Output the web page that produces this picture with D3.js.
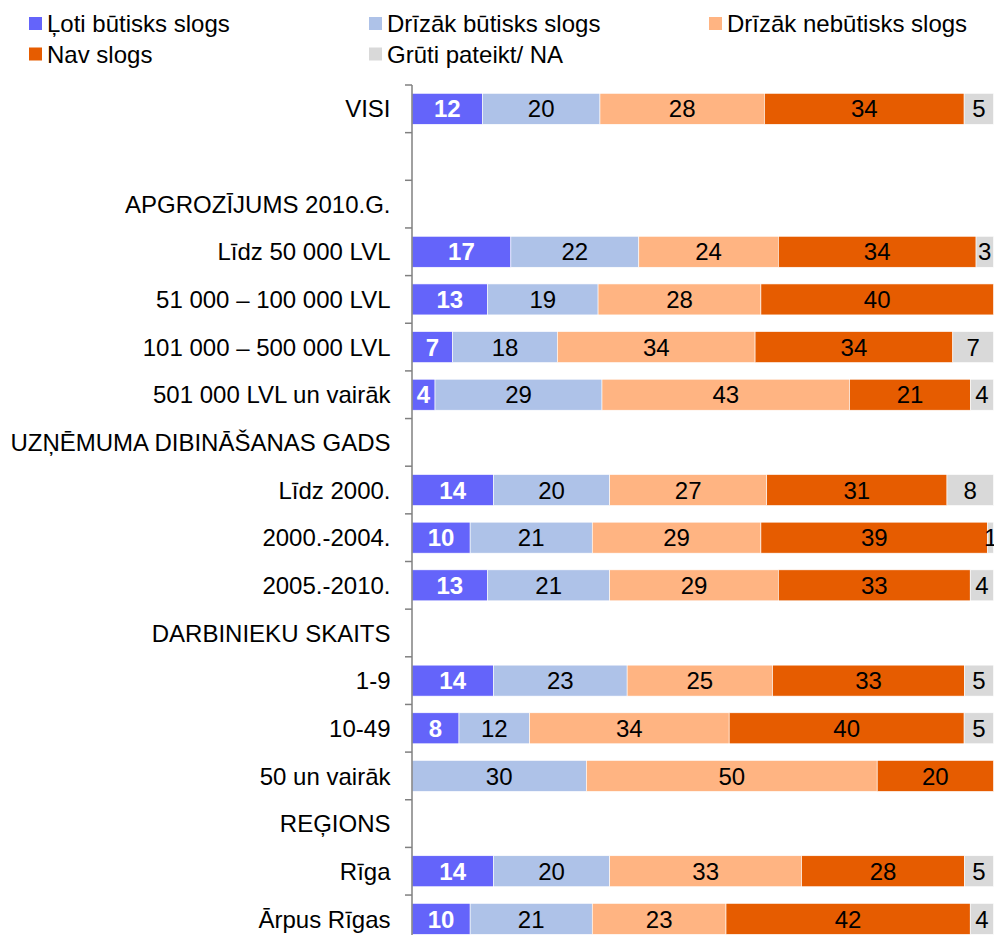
<!DOCTYPE html>
<html>
<head>
<meta charset="utf-8">
<script src="https://cdn.jsdelivr.net/npm/d3@7"></script>
<style>
  body { margin: 0; background: #fff; }
  text { font-family: "Liberation Sans", Arial, sans-serif; }
</style>
</head>
<body>
<div id="chart"></div>
<script>
// rows top to bottom; headers have no bar
var rows = ['VISI', '', 'APGROZĪJUMS 2010.G.', 'Līdz 50 000 LVL', '51 000 – 100 000 LVL',
  '101 000 – 500 000 LVL', '501 000 LVL un vairāk', 'UZŅĒMUMA DIBINĀŠANAS GADS',
  'Līdz 2000.', '2000.-2004.', '2005.-2010.', 'DARBINIEKU SKAITS', '1-9', '10-49',
  '50 un vairāk', 'REĢIONS', 'Rīga', 'Ārpus Rīgas'];
var barRows = ['VISI', 'Līdz 50 000 LVL', '51 000 – 100 000 LVL', '101 000 – 500 000 LVL',
  '501 000 LVL un vairāk', 'Līdz 2000.', '2000.-2004.', '2005.-2010.', '1-9', '10-49',
  '50 un vairāk', 'Rīga', 'Ārpus Rīgas'];
var series = ['Ļoti būtisks slogs', 'Drīzāk būtisks slogs', 'Drīzāk nebūtisks slogs', 'Nav slogs', 'Grūti pateikt/ NA'];
var lotiButisks    = [12, 17, 13, 7, 4, 14, 10, 13, 14, 8, 0, 14, 10];
var drizakButisks  = [20, 22, 19, 18, 29, 20, 21, 21, 23, 12, 30, 20, 21];
var drizakNebut    = [28, 24, 28, 34, 43, 27, 29, 29, 25, 34, 50, 33, 23];
var navSlogs       = [34, 34, 40, 34, 21, 31, 39, 33, 33, 40, 20, 28, 42];
var grutiPateikt   = [5, 3, 0, 7, 4, 8, 1, 4, 5, 5, 0, 5, 4];
var colors = ['#6464FA', '#AEC2E8', '#FFB482', '#E65C00', '#D9D9D9'];

var table = barRows.map(function(r, i) {
  return { row: r, s0: lotiButisks[i], s1: drizakButisks[i], s2: drizakNebut[i], s3: navSlogs[i], s4: grutiPateikt[i] };
});

var width = 994, height = 935;
var svg = d3.select('#chart').append('svg').attr('width', width).attr('height', height);

var top0 = 85, bot0 = 942.7;
var x = d3.scaleLinear().domain([0, 1]).range([412, 993.5]);
var y = d3.scaleBand().domain(rows.map(function(r, i) { return i; })).range([top0, bot0])
  .paddingInner(0.35).paddingOuter(0.175);

var stack = d3.stack().keys(['s0', 's1', 's2', 's3', 's4']).offset(d3.stackOffsetExpand);
var stacked = stack(table);

var g = svg.append('g');
stacked.forEach(function(layer, si) {
  var lg = g.append('g');
  var segs = layer.filter(function(d) { return d[1] - d[0] > 0; });
  lg.selectAll('rect').data(segs).enter().append('rect')
    .attr('x', function(d) { return x(d[0]); })
    .attr('width', function(d) { return x(d[1]) - x(d[0]); })
    .attr('y', function(d) { return y(rows.indexOf(d.data.row)); })
    .attr('height', y.bandwidth())
    .attr('fill', colors[si])
    .attr('stroke', '#fff').attr('stroke-width', 0.6);
  lg.selectAll('text').data(segs).enter().append('text')
    .attr('x', function(d) { return (x(d[0]) + x(d[1])) / 2; })
    .attr('y', function(d) { return y(rows.indexOf(d.data.row)) + y.bandwidth() / 2; })
    .attr('dy', '0.36em')
    .attr('text-anchor', 'middle')
    .attr('font-size', 24)
    .attr('font-weight', si == 0 ? 'bold' : 'normal')
    .attr('fill', si == 0 ? '#fff' : '#000')
    .text(function(d) { return d.data['s' + si]; });
});

// axis
var axisX = 412;
svg.append('line').attr('x1', axisX).attr('x2', axisX).attr('y1', top0).attr('y2', bot0)
  .attr('stroke', '#808080').attr('stroke-width', 1.5);
d3.range(rows.length + 1).forEach(function(i) {
  var ty = top0 + i * y.step();
  svg.append('line').attr('x1', axisX - 7).attr('x2', axisX).attr('y1', ty).attr('y2', ty)
    .attr('stroke', '#808080').attr('stroke-width', 1.5);
});
svg.append('g').selectAll('text').data(rows).enter().append('text')
  .attr('x', 390.5)
  .attr('y', function(d, i) { return y(i) + y.bandwidth() / 2; })
  .attr('dy', '0.36em')
  .attr('text-anchor', 'end')
  .attr('font-size', 24)
  .text(function(d) { return d; });

// legend
var legPos = [[29, 23.5], [369, 23.5], [709, 23.5], [29, 54], [369, 54]];
var leg = svg.append('g');
series.forEach(function(s, i) {
  leg.append('rect').attr('x', legPos[i][0]).attr('y', legPos[i][1] - 6.5).attr('width', 13).attr('height', 13)
    .attr('fill', colors[i]);
  leg.append('text').attr('x', legPos[i][0] + 18).attr('y', legPos[i][1]).attr('dy', '0.36em')
    .attr('font-size', 24).text(s);
});
</script>
</body>
</html>
